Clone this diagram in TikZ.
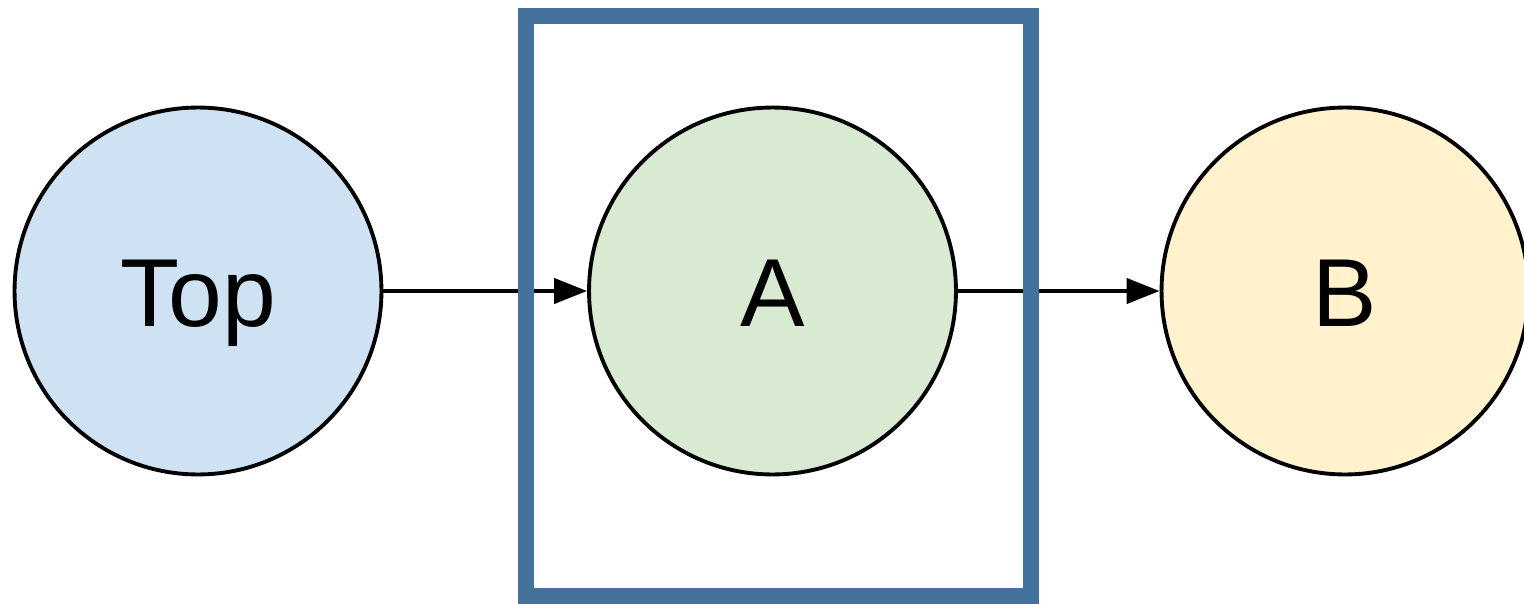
\documentclass[tikz,border=0pt]{standalone}
\usepackage{fontspec}
\setmainfont{Liberation Sans}
\usetikzlibrary{arrows.meta}
\definecolor{topblue}{RGB}{207,226,243}
\definecolor{agreen}{RGB}{217,234,211}
\definecolor{byellow}{RGB}{255,242,204}
\definecolor{framesteel}{RGB}{69,114,157}

\begin{document}
\begin{tikzpicture}[x=0.02cm,y=0.02cm,
  state/.style={circle,draw=black,line width=2.2pt,minimum size=7.34cm,inner sep=0pt,
    text height=1.41cm,text depth=0pt,font=\fontsize{55}{60}\selectfont},
  flow/.style={line width=2.4pt,-{Triangle[length=0.66cm,width=0.5cm]}}]
  \useasboundingbox (0,0) rectangle (1524,603);
  % the three states in a row
  \node[state,fill=topblue] (top) at (198,312) {Top};
  \node[state,fill=agreen] (a) at (772.5,312) {A};
  \node[state,fill=byellow] (b) at (1345,312) {B};
  \draw[flow] (top) -- (a);
  \draw[flow] (a) -- (b);
  % selection frame around A
  \draw[framesteel,line width=0.32cm] (525.5,7.5) rectangle (1030.5,587);
\end{tikzpicture}
\end{document}
